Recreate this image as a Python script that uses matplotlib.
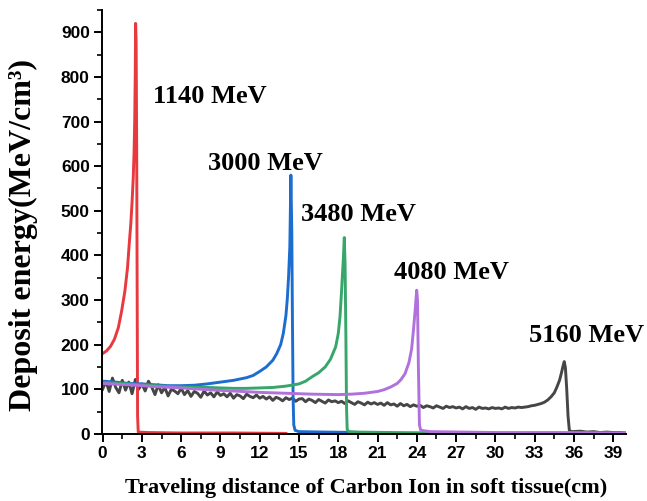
import matplotlib
matplotlib.use("Agg")

import matplotlib.pyplot as plt
import numpy as np
from matplotlib.ticker import MultipleLocator

# ---- data (distance in cm, deposit in MeV/cm^3) ----
red_x = [0, 0.3, 0.6, 0.9, 1.2, 1.45, 1.7, 1.9, 2.03, 2.15, 2.25, 2.34, 2.4,
         2.45, 2.49, 2.52, 2.56, 2.6, 2.64, 2.67, 2.72, 3.5, 6, 10, 14]
red_y = [180, 186, 196, 212, 238, 275, 320, 372, 425, 470, 520, 575, 630,
         700, 800, 920, 880, 650, 300, 40, 4, 3, 2, 2, 1]

blue_x = [0, 1, 2, 3, 4, 5, 6, 7, 8, 9, 10, 11, 11.5, 12, 12.5, 13, 13.3,
          13.6, 13.8, 14.0, 14.1, 14.2, 14.3, 14.38, 14.45, 14.5, 14.55,
          14.6, 14.7, 15, 17, 20, 22]
blue_y = [118, 116, 113, 112, 110, 108, 108, 109, 112, 116, 120, 126, 131,
          140, 150, 165, 180, 200, 225, 265, 300, 350, 420, 580, 450, 250,
          80, 20, 8, 5, 4, 3, 2]

green_x = [0, 2, 4, 6, 8, 10, 11, 12, 13, 14, 15, 15.5, 16, 16.5, 17, 17.4,
           17.8, 18.0, 18.13, 18.25, 18.38, 18.46, 18.52, 18.58, 18.63,
           18.68, 18.8, 19.5, 22, 26, 30]
green_y = [115, 112, 108, 105, 104, 102, 102, 103, 104, 107, 112, 118, 128,
           137, 150, 167, 195, 225, 262, 320, 389, 440, 380, 220, 60,
           10, 5, 4, 3, 2, 2]

purple_x = [0, 2, 4, 6, 8, 10, 12, 14, 16, 18, 19, 20, 21, 21.5, 22, 22.5,
            22.8, 23.1, 23.4, 23.6, 23.75, 23.88, 23.99, 24.05, 24.12, 24.2,
            24.3, 25, 30, 35, 40]
purple_y = [113, 110, 106, 103, 99, 96, 93, 91, 89, 88, 89, 91, 95, 99, 105,
            113, 122, 135, 160, 190, 235, 280, 322, 300, 150, 20,
            8, 5, 3, 3, 2]

# noisy plateau of the 5160 MeV curve, sampled every 0.25 cm from 0 cm
gray_step = 0.25
gray_plateau = [
    100, 118, 95, 125, 104, 92, 120, 98, 116, 90, 122, 100, 112,
    96, 118, 105, 88, 110, 92, 104, 85, 100, 96, 90, 102,
    88, 97, 84, 95, 91, 82, 96, 87, 92, 83, 94, 86,
    90, 83, 91, 80, 88, 85, 79, 89, 84, 81, 87, 80,
    84, 78, 83, 75, 82, 79, 74, 81, 77, 80, 73, 78,
    79, 72, 78, 75, 70, 77, 73, 69, 76, 72, 74, 70,
    73, 68, 74, 70, 66, 72, 69, 65, 71, 67, 70, 66,
    69, 64, 70, 65, 67, 62, 68, 63, 66, 61, 65, 62,
    64, 59, 63, 61, 58, 63, 60, 57, 62, 59, 61, 58,
    60, 56, 61, 57, 59, 55, 60, 57, 58, 56, 59, 57,
    58, 56, 60, 57, 59, 58, 60, 59,
    60, 61, 63, 64, 66, 68, 71,
]
gray_peak_x = [34, 34.25, 34.5, 34.7, 34.9, 35.05, 35.15, 35.26, 35.35, 35.45,
               35.55, 35.65, 35.8, 36.5, 37, 37.5, 38, 38.5, 39, 39.5, 40]
gray_peak_y = [76, 83, 92, 105, 120, 137, 150, 162, 148, 100,
               40, 8, 5, 6, 4, 5, 3, 4, 3, 3, 2]

labels = ["1140 MeV", "3000 MeV", "3480 MeV", "4080 MeV", "5160 MeV"]
label_x = [3.85, 8.05, 15.15, 22.25, 32.6]
label_y = [757, 607, 492, 362, 220]

gray_x = np.concatenate([np.arange(len(gray_plateau)) * gray_step, gray_peak_x])
gray_y = np.concatenate([gray_plateau, gray_peak_y])

fig = plt.figure(figsize=(6.47, 5.01), dpi=100)
ax = fig.add_axes([0.157, 0.134, 0.811, 0.846])

lw = 2.1
ax.plot(gray_x, gray_y, color="#464646", lw=lw)
ax.plot(red_x, red_y, color="#e8393f", lw=lw)
ax.plot(blue_x, blue_y, color="#1c6dd0", lw=lw)
ax.plot(green_x, green_y, color="#36a66a", lw=lw)
ax.plot(purple_x, purple_y, color="#b071dc", lw=lw)

for t, x, y in zip(labels, label_x, label_y):
    ax.text(x, y, t, ha="left", va="center", fontsize=19, fontweight="bold",
            family="Liberation Serif")

ax.set_xlim(-0.08, 40)
ax.set_ylim(0, 950)
ax.xaxis.set_major_locator(MultipleLocator(3))
ax.xaxis.set_minor_locator(MultipleLocator(1.5))
ax.yaxis.set_major_locator(MultipleLocator(100))
ax.yaxis.set_minor_locator(MultipleLocator(50))

ax.spines["top"].set_visible(False)
ax.spines["right"].set_visible(False)
for s in ["left", "bottom"]:
    ax.spines[s].set_linewidth(1.4)

ax.tick_params(which="major", direction="out", length=6, width=1.4, pad=2.5)
ax.tick_params(which="minor", direction="out", length=3.5, width=1.2)
for lab in ax.get_xticklabels() + ax.get_yticklabels():
    lab.set_fontfamily("Liberation Sans")
    lab.set_fontweight("bold")
    lab.set_fontsize(12.5)

ax.set_xlabel("Traveling distance of Carbon Ion in soft tissue(cm)",
              fontsize=16, fontweight="bold", family="Liberation Serif")
ax.set_ylabel("Deposit energy(MeV/cm\u00b3)",
              fontsize=23, fontweight="bold", family="Liberation Serif")
ax.xaxis.set_label_coords(0.504, -0.105)
ax.yaxis.set_label_coords(-0.122, 0.47)

plt.savefig("out.png", dpi=100)
plt.close()
